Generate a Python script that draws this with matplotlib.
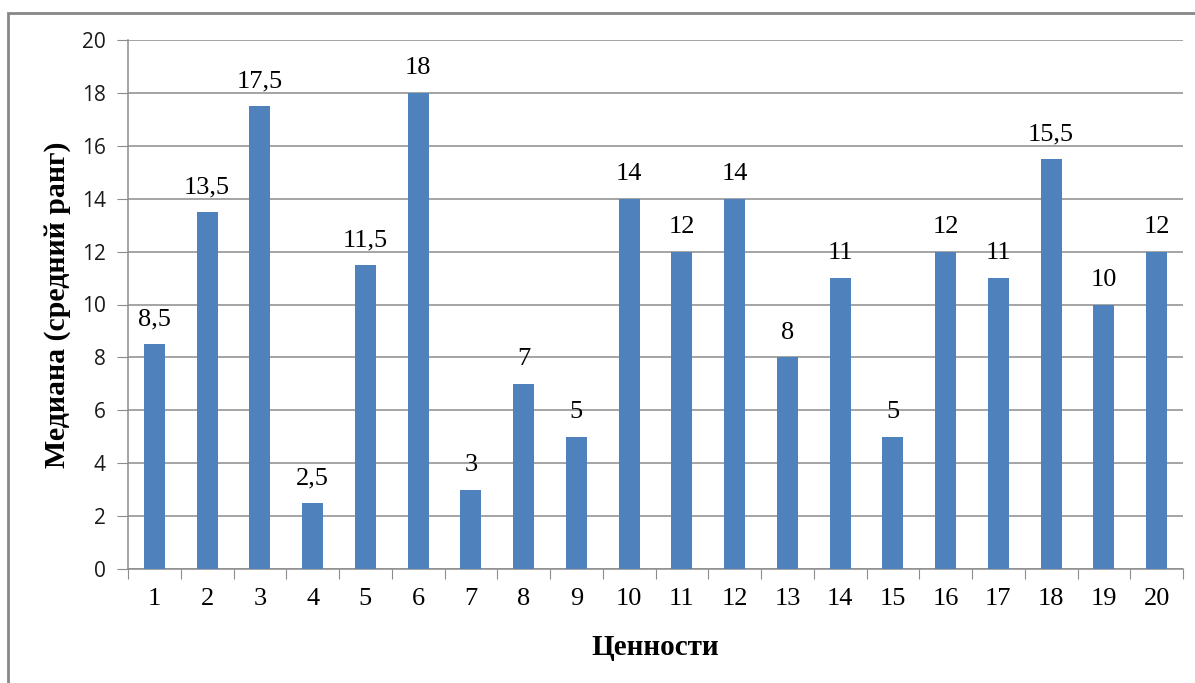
import matplotlib
matplotlib.use("Agg")
import matplotlib.pyplot as plt
from matplotlib.patches import Rectangle

categories = [str(i) for i in range(1, 21)]
values = [8.5, 13.5, 17.5, 2.5, 11.5, 18, 3, 7, 5, 14, 12, 14, 8, 11, 5, 12, 11, 15.5, 10, 12]
labels = ["8,5", "13,5", "17,5", "2,5", "11,5", "18", "3", "7", "5", "14",
          "12", "14", "8", "11", "5", "12", "11", "15,5", "10", "12"]
yticks = [0, 2, 4, 6, 8, 10, 12, 14, 16, 18, 20]

W, H = 1195, 683
fig = plt.figure(figsize=(W / 100, H / 100), dpi=100)
fig.patch.set_facecolor("white")

# chart border (Excel chart area)
fig.patches.append(Rectangle((8 / W, -0.1), 1.2, 1 - 13 / H + 0.1, transform=fig.transFigure,
                             fill=False, edgecolor="#878787", linewidth=2.0, zorder=0))

ax = fig.add_axes([128 / W, 1 - 569 / H, (1183 - 128) / W, (569 - 40) / H])
x = list(range(len(categories)))
ax.bar(x, values, width=0.4, color="#4F81BD", zorder=3)

ax.set_xlim(-0.5, len(categories) - 0.5)
ax.set_ylim(0, 20)
ax.set_yticks(yticks)
ax.set_yticklabels([str(v) for v in yticks], fontfamily="Open Sans", fontsize=15, color="#1a1a1a")
ax.grid(axis="y", color="#8c8c8c", linewidth=1.1, zorder=0)
ax.set_axisbelow(True)

# x ticks at boundaries, labels at centers
ax.set_xticks([i - 0.5 for i in range(len(categories) + 1)])
ax.set_xticklabels([])
ax.set_xticks(x, minor=True)
ax.set_xticklabels(categories, minor=True, fontfamily="Liberation Serif", fontsize=19)
ax.tick_params(axis="x", which="major", length=7, color="#8c8c8c", direction="out")
ax.tick_params(axis="x", which="minor", length=0, pad=14)
ax.tick_params(axis="y", length=8, color="#8c8c8c", pad=8)

for s in ["top", "right"]:
    ax.spines[s].set_visible(False)
for s in ["left", "bottom"]:
    ax.spines[s].set_color("#8c8c8c")
    ax.spines[s].set_linewidth(1.1)

for xi, v, lab in zip(x, values, labels):
    ax.annotate(lab, (xi, v), xytext=(0, 13.5), textcoords="offset points",
                ha="center", va="baseline", fontfamily="Liberation Serif", fontsize=19)

ax.set_ylabel("Медиана (средний ранг)", fontfamily="Liberation Serif", fontsize=21.5,
              fontweight="bold", labelpad=8)
ax.set_xlabel("Ценности", fontfamily="Liberation Serif", fontsize=21,
              fontweight="bold", labelpad=17)

fig.savefig("out.png", dpi=100, facecolor="white")
